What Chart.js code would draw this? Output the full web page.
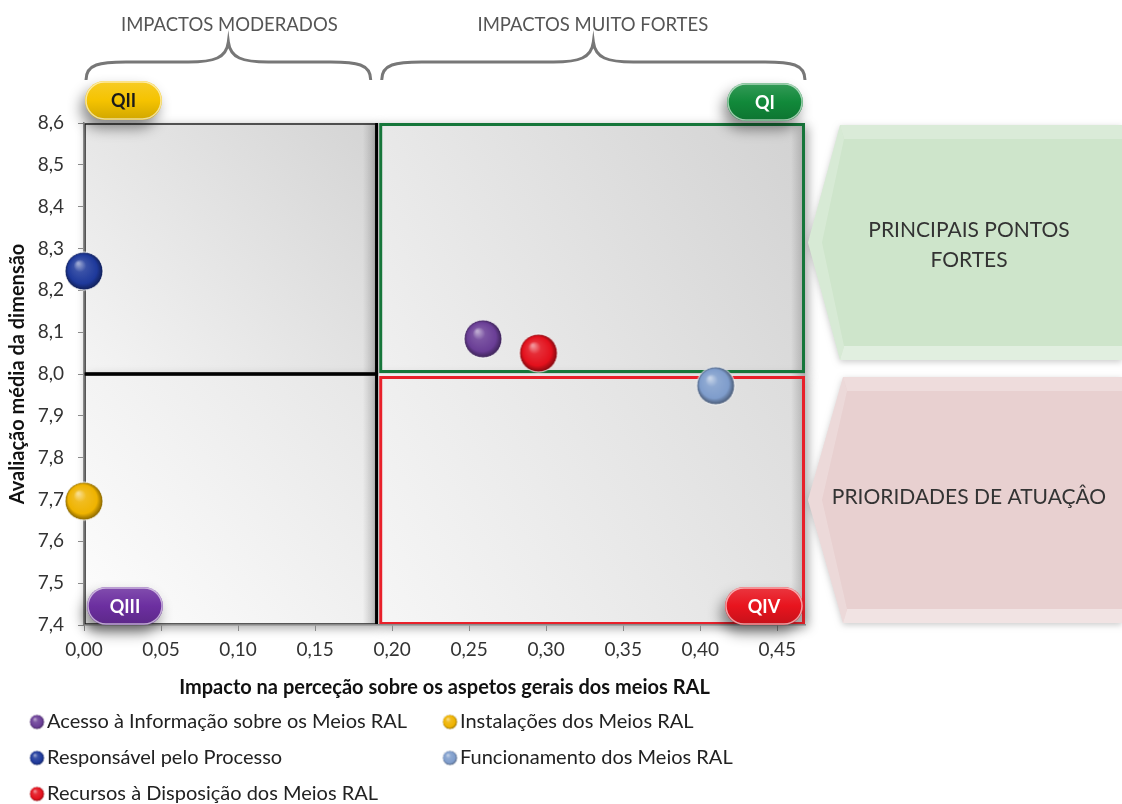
<!DOCTYPE html>
<html><head><meta charset="utf-8">
<script src="https://cdn.jsdelivr.net/npm/chart.js@4/dist/chart.umd.min.js"></script>
<style>html,body{margin:0;padding:0;background:#fff;}#wrap{position:relative;width:1122px;height:804px;}</style>
</head><body><div id="wrap"><canvas id="c" width="1122" height="804" style="width:1122px;height:804px;"></canvas></div>
<script>
const seriesNames = ['Acesso à Informação sobre os Meios RAL','Responsável pelo Processo','Recursos à Disposição dos Meios RAL','Instalações dos Meios RAL','Funcionamento dos Meios RAL'];
const impactValues = [0.259, 0.000, 0.295, 0.000, 0.410];
const ratingValues = [8.084, 8.246, 8.050, 7.696, 7.972];
const seriesColors = ['#6a3e96','#1e399b','#e3101c','#efb300','#7f9dcc'];
const xAxisTitle = 'Impacto na perceção sobre os aspetos gerais dos meios RAL';
const yAxisTitle = 'Avaliação média da dimensão';
const xSplit = 0.19, ySplit = 8.0;
const xMin = 0, xMax = 0.468, xStep = 0.05;
const yMin = 7.4, yMax = 8.6, yStep = 0.1;
const groupLabels = ['IMPACTOS MODERADOS','IMPACTOS MUITO FORTES'];
const quadrantNames = ['QI','QII','QIII','QIV'];
const panelTexts = [['PRINCIPAIS PONTOS','FORTES'],['PRIORIDADES DE ATUAÇÂO']];
const FONT = 'Lato';

function hexToRgb(h){h=h.replace('#','');return [parseInt(h.substr(0,2),16),parseInt(h.substr(2,2),16),parseInt(h.substr(4,2),16)];}
function mix(h, t, a){const c=hexToRgb(h), d=hexToRgb(t);return 'rgb('+c.map((v,i)=>Math.round(v+(d[i]-v)*a)).join(',')+')';}
function sphere(color, r){
  const cv=document.createElement('canvas'); const s=2*r+4; cv.width=cv.height=s;
  const g=cv.getContext('2d'); const cx=s/2, cy=s/2;
  const gr=g.createRadialGradient(cx-r*0.3,cy-r*0.4,r*0.05,cx,cy,r);
  gr.addColorStop(0,mix(color,'#ffffff',0.55));
  gr.addColorStop(0.3,mix(color,'#ffffff',0.12));
  gr.addColorStop(0.75,color);
  gr.addColorStop(1,mix(color,'#000000',0.45));
  g.beginPath(); g.arc(cx,cy,r,0,Math.PI*2); g.fillStyle=gr; g.fill();
  g.lineWidth=1; g.strokeStyle='rgba(255,255,255,0.9)'; g.stroke();
  return cv;
}
const bigSpheres = seriesColors.map(c=>sphere(c,19));
const smallSpheres = seriesColors.map(c=>sphere(c,7.5));

function roundRect(ctx,x,y,w,h,r){ctx.beginPath();ctx.moveTo(x+r,y);ctx.arcTo(x+w,y,x+w,y+h,r);ctx.arcTo(x+w,y+h,x,y+h,r);ctx.arcTo(x,y+h,x,y,r);ctx.arcTo(x,y,x+w,y,r);ctx.closePath();}
function pill(ctx,x,y,w,h,color,text,textColor){
  ctx.save();
  ctx.shadowColor='rgba(0,0,0,0.45)'; ctx.shadowBlur=14; ctx.shadowOffsetX=-4; ctx.shadowOffsetY=8;
  roundRect(ctx,x,y,w,h,h/2);
  const g=ctx.createLinearGradient(0,y,0,y+h);
  g.addColorStop(0,mix(color,'#ffffff',0.15)); g.addColorStop(0.5,color); g.addColorStop(1,mix(color,'#000000',0.15));
  ctx.fillStyle=g; ctx.fill();
  ctx.restore();
  ctx.save();
  roundRect(ctx,x+1,y+1,w-2,h-2,(h-2)/2); ctx.strokeStyle='rgba(255,255,255,0.6)'; ctx.lineWidth=1.5; ctx.stroke();
  ctx.fillStyle=textColor; ctx.font='bold 18px '+FONT; ctx.textAlign='center'; ctx.textBaseline='middle';
  ctx.fillText(text,x+w/2,y+h/2+1);
  ctx.restore();
}
function brace(ctx,x1,x2,yEnd,yMid,yTip){
  const xm=(x1+x2)/2;
  ctx.beginPath();
  ctx.moveTo(x1,yEnd);
  ctx.bezierCurveTo(x1,yMid+2,x1+14,yMid,x1+40,yMid);
  ctx.lineTo(xm-40,yMid);
  ctx.bezierCurveTo(xm-14,yMid,xm-2,yMid-4,xm,yTip);
  ctx.bezierCurveTo(xm+2,yMid-4,xm+14,yMid,xm+40,yMid);
  ctx.lineTo(x2-40,yMid);
  ctx.bezierCurveTo(x2-14,yMid,x2,yMid+2,x2,yEnd);
  ctx.stroke();
}
function panel(ctx,xL,xT,xR,yT,yB,color,lines,textY){
  const ym=(yT+yB)/2;
  ctx.save();
  ctx.shadowColor='rgba(0,0,0,0.2)'; ctx.shadowBlur=6; ctx.shadowOffsetY=2;
  ctx.beginPath(); ctx.moveTo(xT,yT); ctx.lineTo(xR,yT); ctx.lineTo(xR,yB); ctx.lineTo(xT,yB); ctx.lineTo(xL,ym); ctx.closePath();
  ctx.fillStyle=color; ctx.fill();
  ctx.restore();
  ctx.save();
  const b=14;
  ctx.beginPath(); ctx.moveTo(xT,yT); ctx.lineTo(xR,yT); ctx.lineTo(xR,yT+b); ctx.lineTo(xT+b*0.3,yT+b); ctx.closePath();
  ctx.fillStyle='rgba(255,255,255,0.25)'; ctx.fill();
  ctx.beginPath(); ctx.moveTo(xT,yB); ctx.lineTo(xR,yB); ctx.lineTo(xR,yB-b); ctx.lineTo(xT+b*0.3,yB-b); ctx.closePath();
  ctx.fillStyle='rgba(255,255,255,0.4)'; ctx.fill();
  ctx.beginPath(); ctx.moveTo(xT,yT); ctx.lineTo(xL,ym); ctx.lineTo(xT,yB); ctx.lineTo(xT+4,yB-b); ctx.lineTo(xL+14,ym); ctx.lineTo(xT+4,yT+b); ctx.closePath();
  ctx.fillStyle='rgba(255,255,255,0.2)'; ctx.fill();
  ctx.fillStyle='#333'; ctx.font='21px '+FONT; ctx.textAlign='center'; ctx.textBaseline='middle';
  const cx=969;
  lines.forEach((t,i)=>ctx.fillText(t,cx,textY+i*30));
  ctx.restore();
}

const decor = {
  id:'decor',
  beforeDraw(chart){
    const ctx=chart.ctx, xs=chart.scales.x, ys=chart.scales.y, a=chart.chartArea;
    const xm=xs.getPixelForValue(xSplit), ym=ys.getPixelForValue(ySplit);
    ctx.save();
    const quads=[
      [a.left,a.top,xm,ym,'#f4f4f4','#d4d4d4'],
      [xm,a.top,a.right,ym,'#f0f0f0','#d2d2d2'],
      [a.left,ym,xm,a.bottom,'#fdfdfd','#e6e6e6'],
      [xm,ym,a.right,a.bottom,'#f6f6f6','#dcdcdc']
    ];
    quads.forEach(q=>{
      const g=ctx.createLinearGradient(q[0],q[3],q[2],q[1]);
      g.addColorStop(0,q[4]); g.addColorStop(1,q[5]);
      ctx.save(); ctx.shadowColor='rgba(0,0,0,0.35)'; ctx.shadowBlur=10; ctx.shadowOffsetX=3; ctx.shadowOffsetY=3;
      ctx.fillStyle=g; ctx.fillRect(q[0],q[1],q[2]-q[0],q[3]-q[1]); ctx.restore();
      const sg=ctx.createLinearGradient(q[2]-14,0,q[2],0);
      sg.addColorStop(0,'rgba(120,120,120,0)'); sg.addColorStop(1,'rgba(120,120,120,0.45)');
      ctx.fillStyle=sg; ctx.fillRect(q[2]-14,q[1],14,q[3]-q[1]);
    });
    ctx.lineWidth=1.5; ctx.strokeStyle='#222';
    ctx.strokeRect(a.left+1,a.top+1,xm-a.left-2,ym-a.top-2);
    ctx.strokeRect(a.left+1,ym+1,xm-a.left-2,a.bottom-ym-2);
    ctx.lineWidth=3; ctx.strokeStyle='#16763a';
    ctx.strokeRect(xm+4,a.top+1.5,a.right-xm-5.5,ym-a.top-4);
    ctx.strokeStyle='#e8202a';
    ctx.strokeRect(xm+4,ym+3.5,a.right-xm-5.5,a.bottom-ym-5);
    ctx.strokeStyle='#000'; ctx.lineWidth=3;
    ctx.beginPath(); ctx.moveTo(xm,a.top); ctx.lineTo(xm,a.bottom); ctx.stroke();
    ctx.beginPath(); ctx.moveTo(a.left,ym); ctx.lineTo(xm,ym); ctx.stroke();
    ctx.strokeStyle='#777'; ctx.lineWidth=3;
    brace(ctx,a.left+2,xm-6,80,62,42);
    brace(ctx,xm+5,a.right,80,62,42);
    ctx.fillStyle='#555'; ctx.font='18.5px '+FONT; ctx.textAlign='center'; ctx.textBaseline='middle';
    ctx.fillText(groupLabels[0],(a.left+xm)/2-1,25);
    ctx.fillText(groupLabels[1],(xm+a.right)/2+2,25);
    panel(ctx,808,840,1122,a.top+2,360,'#cee5cb',panelTexts[0],230);
    panel(ctx,808,843,1122,377,a.bottom-2,'#e8d0d0',panelTexts[1],497);
    ctx.restore();
  },
  afterDatasetsDraw(chart){
    const ctx=chart.ctx, a=chart.chartArea;
    pill(ctx,a.left+1,81,77,39,'#f5c300',quadrantNames[1],'#1a1a1a');
    pill(ctx,a.right-78,83,76,38,'#11893a',quadrantNames[0],'#ffffff');
    pill(ctx,a.left+3,587,76,38,'#6c2fa0',quadrantNames[2],'#ffffff');
    pill(ctx,a.right-80,587,78,38,'#e8141e',quadrantNames[3],'#ffffff');
  },
  afterDraw(chart){
    const ctx=chart.ctx;
    ctx.save();
    ctx.font='20px '+FONT; ctx.fillStyle='#222'; ctx.textBaseline='middle'; ctx.textAlign='left';
    chart.data.datasets.forEach((ds,i)=>{
      const col=Math.floor(i/3), row=i%3;
      const x=col===0?37:450, y=722+row*36;
      const img=smallSpheres[i];
      ctx.drawImage(img,x-img.width/2,y-img.height/2);
      ctx.fillText(ds.label,x+10,y);
    });
    ctx.restore();
  }
};

const fmt=(v,d)=>Number(v).toFixed(d).replace('.',',');

new Chart(document.getElementById('c'),{
  type:'scatter',
  data:{datasets:seriesNames.map((n,i)=>({label:n,data:[{x:impactValues[i],y:ratingValues[i]}],pointStyle:bigSpheres[i],pointRadius:19,hoverRadius:19,backgroundColor:seriesColors[i],clip:false}))},
  options:{
    responsive:false, animation:false, devicePixelRatio:1,
    layout:{padding:{top:123,right:317,bottom:100,left:0}},
    plugins:{legend:{display:false},tooltip:{enabled:false}},
    scales:{
      x:{type:'linear',min:xMin,max:xMax,
        afterFit:s=>{s.height=79;},
        ticks:{stepSize:xStep,includeBounds:false,callback:v=>fmt(v,2),font:{family:FONT,size:19},color:'#333',padding:7,maxRotation:0},
        grid:{drawOnChartArea:false,tickLength:6,color:'#8a8a8a'},
        border:{color:'#8a8a8a',width:1.5},
        title:{display:true,text:xAxisTitle,font:{family:FONT,size:20,weight:'bold'},color:'#111'}},
      y:{type:'linear',min:yMin,max:yMax,
        afterFit:s=>{s.width=84;},
        ticks:{stepSize:yStep,callback:v=>fmt(v,1),font:{family:FONT,size:19},color:'#333',padding:14},
        grid:{drawOnChartArea:false,tickLength:6,color:'#8a8a8a'},
        border:{color:'#8a8a8a',width:1.5},
        title:{display:true,text:yAxisTitle,font:{family:FONT,size:20,weight:'bold'},color:'#111',padding:{top:6,bottom:0}}}
    }
  },
  plugins:[decor]
});
</script></body></html>
